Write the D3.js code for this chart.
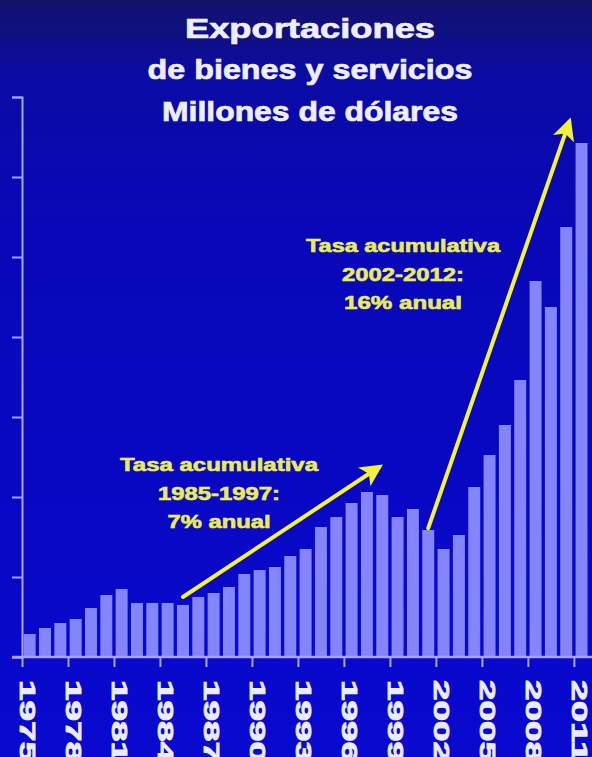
<!DOCTYPE html>
<html>
<head>
<meta charset="utf-8">
<script src="https://cdn.jsdelivr.net/npm/d3@7"></script>
<style>
  html, body { margin: 0; padding: 0; background: #0a0ab0; }
  svg { display: block; }
</style>
</head>
<body>
<svg id="chart" width="592" height="757"></svg>
<script>
// ---- data ----
const years = [1975,1976,1977,1978,1979,1980,1981,1982,1983,1984,1985,1986,1987,1988,1989,1990,
  1991,1992,1993,1994,1995,1996,1997,1998,1999,2000,2001,2002,2003,2004,2005,2006,2007,2008,2009,2010,2011];
const exportsMUSD = [2875,3625,4250,4750,6125,7750,8500,6750,6750,6750,6500,7500,8000,8750,10375,10875,
  11250,12625,13500,16250,17500,19250,20625,20250,17500,18500,15875,13500,15250,21250,25250,29000,34625,47000,43750,53750,64250];
const yTicks = [0,10000,20000,30000,40000,50000,60000,70000];
const xTickYears = [1975,1978,1981,1984,1987,1990,1993,1996,1999,2002,2005,2008,2011];
const titleLines = ["Exportaciones", "de bienes y servicios", "Millones de dólares"];
const note1Lines = ["Tasa acumulativa", "1985-1997:", "7% anual"];
const note2Lines = ["Tasa acumulativa", "2002-2012:", "16% anual"];
// arrows: [startYear, startValue] -> [endYear, endValue]
const arrow1 = [[1985, 7500], [1997.8, 23750]];
const arrow2 = [[2001, 16100], [2010.2, 66900]];

// ---- layout ----
const svg = d3.select("#chart");
const W = 592, H = 757;
const x0 = 22, step = 15.33;
const baseY = 657, topY = 97;

const defs = svg.append("defs");
const bg = defs.append("linearGradient").attr("id","bg").attr("x1",0).attr("y1",0).attr("x2",0).attr("y2",1);
[[0,"#12126a"],[0.1,"#0b0ba4"],[0.3,"#0808b8"],[1,"#0909d0"]].forEach(s =>
  bg.append("stop").attr("offset", s[0]).attr("stop-color", s[1]));
svg.append("rect").attr("width", W).attr("height", H).attr("fill", "url(#bg)");

const x = d3.scaleBand().domain(years).range([x0, x0 + step * years.length])
  .paddingInner(0.22).paddingOuter(0.11);
const xLin = d3.scaleLinear().domain([1975, 1975 + years.length]).range([x0, x0 + step * years.length]);
const y = d3.scaleLinear().domain([0, 70000]).range([baseY, topY]);

const axisColor = "#a4a4ff";

// bars
svg.append("g").selectAll("rect").data(years).join("rect")
  .attr("x", d => x(d))
  .attr("width", x.bandwidth())
  .attr("y", (d,i) => y(exportsMUSD[i]))
  .attr("height", (d,i) => baseY - y(exportsMUSD[i]))
  .attr("fill", "#8484fc");

// y axis
const yAxis = svg.append("g").attr("transform", `translate(${x0},0)`)
  .call(d3.axisLeft(y).tickValues(yTicks).tickSize(10).tickFormat(""));
yAxis.select(".domain").attr("stroke", axisColor).attr("stroke-width", 2);
yAxis.selectAll(".tick line").attr("stroke", axisColor).attr("stroke-width", 2);

// x axis
const xAxis = svg.append("g").attr("transform", `translate(0,${baseY})`)
  .call(d3.axisBottom(xLin).tickValues(xTickYears).tickSize(10).tickFormat(""));
xAxis.select(".domain").remove();
xAxis.selectAll(".tick line").attr("stroke", axisColor).attr("stroke-width", 2);
svg.append("line").attr("x1", 12).attr("x2", W).attr("y1", baseY).attr("y2", baseY)
  .attr("stroke", axisColor).attr("stroke-width", 2.5);

// x labels (rotated)
svg.append("g").selectAll("text").data(xTickYears).join("text")
  .attr("transform", d => `translate(${xLin(d + 0.5) - 9.5},680) rotate(90)`)
  .attr("text-anchor", "start")
  .attr("font-family", "'Liberation Sans', Arial, sans-serif")
  .attr("font-weight", "bold")
  .attr("font-size", 22)
  .attr("textLength", 82)
  .attr("lengthAdjust", "spacingAndGlyphs")
  .attr("fill", "#ececff")
  .attr("stroke", "#ececff")
  .attr("stroke-width", 0.8)
  .text(d => d);

// title
const titleSpec = [{y: 38, size: 28, len: 250}, {y: 79, size: 28, len: 325}, {y: 121, size: 27, len: 296}];
svg.append("g").selectAll("text").data(titleLines).join("text")
  .attr("x", 310)
  .attr("y", (d,i) => titleSpec[i].y)
  .attr("text-anchor", "middle")
  .attr("font-family", "'Liberation Sans', Arial, sans-serif")
  .attr("font-weight", "bold")
  .attr("font-size", (d,i) => titleSpec[i].size)
  .attr("textLength", (d,i) => titleSpec[i].len)
  .attr("lengthAdjust", "spacingAndGlyphs")
  .attr("fill", "#eeeeff")
  .attr("stroke", "#eeeeff")
  .attr("stroke-width", 0.7)
  .text(d => d);

// annotations
const yellowText = "#ecec58", yellowLine = "#f2f23c";
function note(lines, cx, y0, lens) {
  svg.append("g").selectAll("text").data(lines).join("text")
    .attr("x", cx)
    .attr("y", (d,i) => y0 + i * 28.5)
    .attr("text-anchor", "middle")
    .attr("font-family", "'Liberation Sans', Arial, sans-serif")
    .attr("font-weight", "bold")
    .attr("font-size", 18)
    .attr("textLength", (d,i) => lens[i])
    .attr("lengthAdjust", "spacingAndGlyphs")
    .attr("fill", yellowText)
    .attr("stroke", yellowText)
    .attr("stroke-width", 0.6)
    .text(d => d);
}
note(note1Lines, 219, 471, [198, 122, 103]);
note(note2Lines, 403, 252, [194, 122, 118]);

defs.append("marker").attr("id", "ah").attr("viewBox", "0 0 10 10")
  .attr("refX", 8).attr("refY", 5).attr("markerWidth", 5.6).attr("markerHeight", 5.6)
  .attr("markerUnits", "strokeWidth").attr("orient", "auto")
  .append("path").attr("d", "M0,0 L10,5 L0,10 L2.5,5 Z").attr("fill", yellowLine);

const px = yr => xLin(yr + 0.5);
[arrow1, arrow2].forEach(a => {
  svg.append("line")
    .attr("x1", px(a[0][0])).attr("y1", y(a[0][1]))
    .attr("x2", px(a[1][0])).attr("y2", y(a[1][1]))
    .attr("stroke", yellowLine).attr("stroke-width", 4)
    .attr("stroke-linecap", "round")
    .attr("marker-end", "url(#ah)");
});
</script>
</body>
</html>
